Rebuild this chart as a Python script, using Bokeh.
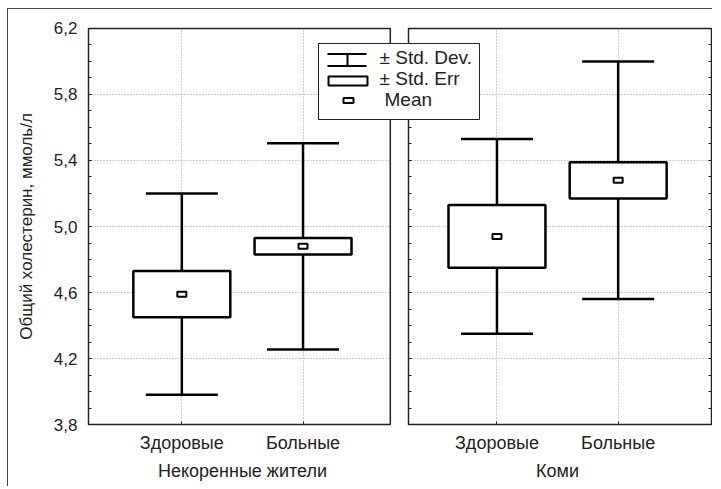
from bokeh.plotting import figure
from bokeh.models import (Range1d, LinearAxis, FixedTicker, CustomJSTickFormatter, Grid,
                          BoxAnnotation, Label, ColumnDataSource)
from bokeh.embed import file_html
from bokeh.resources import INLINE

# ---------------- data ----------------
groups = ["Некоренные жители", "Коми"]
categories = ["Здоровые", "Больные"]
means = [4.59, 4.88, 4.94, 5.28]        # mean per (group, category)
std_dev = [0.61, 0.625, 0.59, 0.72]     # +- Std. Dev.
std_err = [0.14, 0.05, 0.19, 0.11]      # +- Std. Err
y_ticks = [3.8, 4.2, 4.6, 5.0, 5.4, 5.8, 6.2]
y_minor_ticks = [3.8, 3.9, 4.0, 4.1, 4.2, 4.3, 4.4, 4.5, 4.6, 4.7, 4.8, 4.9, 5.0,
                 5.1, 5.2, 5.3, 5.4, 5.5, 5.6, 5.7, 5.8, 5.9, 6.0, 6.1, 6.2]
y_title = "Общий холестерин, ммоль/л"
legend_labels = ["± Std. Dev.", "± Std. Err", "Mean"]

# ---------------- layout ----------------
GROUP_STEP = 2.6
x_pos = [g * GROUP_STEP + c + 1 for g in range(len(groups)) for c in range(len(categories))]
cat_labels = [c for g in groups for c in categories]
grp_pos = [(x_pos[2 * g] + x_pos[2 * g + 1]) / 2 for g in range(len(groups))]
panel_left = [0.23, 2.87]
panel_right = [2.72, 5.37]
Y_LO, Y_HI = y_ticks[0], y_ticks[-1]
XM, YM = 0.0165, 0.012   # small margin so the panel borders are not clipped

FONT = "Liberation Sans"
TXT = "#222222"

src = ColumnDataSource(dict(
    x=x_pos,
    mean=means,
    sd_lo=[m - s for m, s in zip(means, std_dev)],
    sd_hi=[m + s for m, s in zip(means, std_dev)],
    se_lo=[m - s for m, s in zip(means, std_err)],
    se_hi=[m + s for m, s in zip(means, std_err)],
))

p = figure(width=705, height=478,
           x_range=Range1d(panel_left[0] - XM, panel_right[-1] + XM),
           y_range=Range1d(Y_LO - YM, Y_HI + YM),
           x_axis_type=None, y_axis_type=None,
           output_backend="svg", toolbar_location=None,
           min_border_left=78, min_border_right=0, min_border_top=17, min_border_bottom=61,
           styles={"margin-left": "7px", "margin-top": "8px",
                   "border-left": "1px solid #444", "border-top": "1px solid #444"})
p.outline_line_color = None
p.background_fill_color = "white"
p.border_fill_color = "white"

# ---------------- axes ----------------
y_ticker = FixedTicker(ticks=y_ticks, minor_ticks=y_minor_ticks)
y_fmt = CustomJSTickFormatter(code="return tick.toFixed(1).replace('.', ',');")
NO_LABELS = dict(major_label_text_font_size="0px", major_label_text_color=None,
                 major_label_standoff=0)

# labels of the y axis (sits at the frame edge)
ax_left = LinearAxis(ticker=y_ticker, formatter=y_fmt,
                     axis_label=y_title, axis_label_standoff=15,
                     axis_label_text_font=FONT, axis_label_text_font_size="17px",
                     axis_label_text_font_style="normal", axis_label_text_color=TXT,
                     major_label_text_font=FONT, major_label_text_font_size="17px",
                     major_label_text_color=TXT, major_label_standoff=9,
                     major_tick_in=0, major_tick_out=0, minor_tick_in=0, minor_tick_out=0,
                     axis_line_color=None)
p.add_layout(ax_left, "left")

# tick marks on the panel borders
for loc, t_in, t_out in [(panel_left[0], 3, 0), (panel_left[1], 3, 0), (panel_right[1], 0, 3)]:
    ax = LinearAxis(ticker=y_ticker, fixed_location=loc,
                    major_tick_in=t_in, major_tick_out=t_out,
                    minor_tick_in=t_in, minor_tick_out=t_out,
                    major_tick_line_color="#222", minor_tick_line_color="#222",
                    axis_line_color=None, **NO_LABELS)
    p.add_layout(ax, "left")

lookup_code = """
const i = pos.findIndex(v => Math.abs(v - tick) < 1e-6);
return i >= 0 ? names[i] : "";
"""
x_ticker = FixedTicker(ticks=x_pos, minor_ticks=[])
ax_cat = LinearAxis(ticker=x_ticker,
                    formatter=CustomJSTickFormatter(args=dict(pos=x_pos, names=cat_labels),
                                                    code=lookup_code),
                    major_label_text_font=FONT, major_label_text_font_size="18px",
                    major_label_text_color=TXT, major_label_standoff=6,
                    major_tick_in=0, major_tick_out=0, minor_tick_in=0, minor_tick_out=0,
                    axis_line_color=None)
p.add_layout(ax_cat, "below")

ax_grp = LinearAxis(ticker=FixedTicker(ticks=grp_pos, minor_ticks=[]),
                    formatter=CustomJSTickFormatter(args=dict(pos=grp_pos, names=groups),
                                                    code=lookup_code),
                    major_label_text_font=FONT, major_label_text_font_size="18px",
                    major_label_text_color=TXT, major_label_standoff=5,
                    major_tick_in=0, major_tick_out=0, minor_tick_in=0, minor_tick_out=0,
                    major_tick_line_color=None, axis_line_color=None)
p.add_layout(ax_grp, "below")

ax_xt = LinearAxis(ticker=x_ticker, fixed_location=Y_LO,
                   major_tick_in=3, major_tick_out=0, minor_tick_in=0, minor_tick_out=0,
                   major_tick_line_color="#222", axis_line_color=None, **NO_LABELS)
p.add_layout(ax_xt, "below")

# ---------------- grids ----------------
GRID = dict(grid_line_color="#a0a0a0", grid_line_dash="1 2", grid_line_width=1)
p.add_layout(Grid(dimension=0, ticker=x_ticker, cross_bounds=(Y_LO, Y_HI), **GRID))
for l, r in zip(panel_left, panel_right):
    p.add_layout(Grid(dimension=1, ticker=FixedTicker(ticks=y_ticks[1:-1], minor_ticks=[]),
                      cross_bounds=(l, r), **GRID))

# ---------------- glyphs ----------------
p.segment(x0="x", y0="sd_lo", x1="x", y1="sd_hi", source=src,
          line_color="black", line_width=2.5)
p.scatter(x="x", y="sd_hi", marker="dash", size=72, source=src,
          line_color="black", line_width=2.5)
p.scatter(x="x", y="sd_lo", marker="dash", size=72, source=src,
          line_color="black", line_width=2.5)
p.vbar(x="x", width=0.8, bottom="se_lo", top="se_hi", source=src,
       fill_color="white", line_color="black", line_width=2.5)
p.rect(x="x", y="mean", width=9, height=5, width_units="screen", height_units="screen",
       source=src, fill_color="white", line_color="black", line_width=2)
p.quad(left=panel_left, right=panel_right, bottom=Y_LO, top=Y_HI,
       fill_color=None, line_color="#222", line_width=1.5)

# ---------------- legend (drawn in canvas pixels) ----------------
def cbox(l, r, t, b, fill="white", line=None, lw=1):
    return BoxAnnotation(left=l, right=r, top=t, bottom=b,
                         left_units="canvas", right_units="canvas",
                         top_units="canvas", bottom_units="canvas",
                         fill_color=fill, fill_alpha=1.0,
                         line_color=line, line_alpha=1.0, line_width=lw, level="annotation")

p.add_layout(cbox(309, 470, 33, 109, fill="white", line="#222", lw=1))
# whisker icon
p.add_layout(cbox(318, 357, 42.5, 44.5, fill="black"))
p.add_layout(cbox(337, 339, 43, 56, fill="black"))
p.add_layout(cbox(318, 357, 54.5, 56.5, fill="black"))
# box icon
p.add_layout(cbox(319, 358, 66, 75, fill="white", line="black", lw=2))
# mean icon
p.add_layout(cbox(334, 344, 87.5, 92.5, fill="white", line="black", lw=2))
for txt, lx, ly in zip(legend_labels, [370, 370, 375], [47, 68, 89]):
    p.add_layout(Label(x=lx, y=ly, x_units="canvas", y_units="canvas", text=txt,
                       text_font=FONT, text_font_size="19px", text_color=TXT,
                       text_baseline="alphabetic", text_align="left"))

open("out.html", "w").write(file_html(p, INLINE))
